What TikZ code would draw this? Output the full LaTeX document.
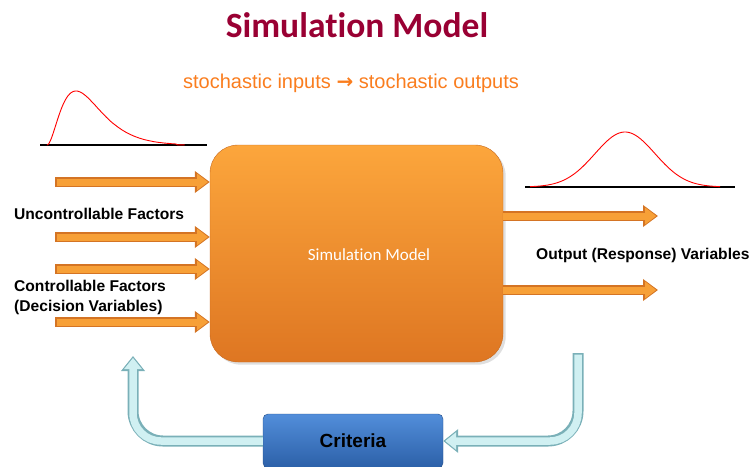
\documentclass[tikz,border=0pt]{standalone}
\usepackage{fontspec}
\setmainfont{Liberation Sans}
\newfontfamily\calibri[Ligatures=NoCommon]{Carlito}
\newfontfamily\arrowfont{DejaVu Sans}
\usetikzlibrary{arrows.meta,shadows}
\definecolor{titleRed}{RGB}{153,0,51}
\definecolor{stochOrange}{RGB}{250,125,30}
\definecolor{boxTop}{RGB}{252,166,60}
\definecolor{boxBottom}{RGB}{222,118,34}
\definecolor{arrowOrange}{RGB}{247,160,55}
\definecolor{arrowEdge}{RGB}{212,116,36}
\definecolor{critTop}{RGB}{82,142,218}
\definecolor{critBottom}{RGB}{44,96,168}
\definecolor{loopFill}{RGB}{208,240,242}
\definecolor{loopEdge}{RGB}{122,176,184}

\begin{document}
\begin{tikzpicture}[x=1pt, y=-1pt]
    \tikzset{
      modelbox/.style={rectangle, rounded corners=28pt, top color=boxTop, bottom color=boxBottom, draw=boxBottom!90!black, minimum width=293pt, minimum height=217pt, drop shadow={opacity=0.25}},
      critbox/.style={rectangle, rounded corners=5pt, top color=critTop, bottom color=critBottom, draw=critBottom!80!black, minimum width=180pt, minimum height=54pt, font=\bfseries\fontsize{19}{22}\selectfont},
      factor/.style={anchor=west, align=left, inner sep=0pt, font=\bfseries\fontsize{15.6}{19.5}\selectfont},
      inedge/.style={line width=10pt, arrowEdge, -{Triangle[width=21pt,length=15pt]}},
      infill/.style={line width=7pt, arrowOrange, -{Triangle[width=16pt,length=11pt]}, shorten >=1.8pt},
      loopedge/.style={line width=11pt, loopEdge, rounded corners=30pt, -{Triangle[width=23pt,length=15pt]}},
      loopfill/.style={line width=7.5pt, loopFill, rounded corners=28pt, -{Triangle[width=17pt,length=11pt]}, shorten >=2pt},
      axis/.style={line width=1.3pt, black},
      density/.style={line width=0.9pt, red, smooth}
    }
    \useasboundingbox (0,0) rectangle (749,466);

    % titles
    \node[text=titleRed, font=\calibri\bfseries\fontsize{35.5}{40}\selectfont] (title) at (357,25) {Simulation Model};
    \node[text=stochOrange, font=\fontsize{20}{22}\selectfont] (sub) at (351,83) {stochastic inputs {\arrowfont\bfseries →} stochastic outputs};

    % input and output distributions
    \draw[axis] (40,145) -- (207,145);
    \draw[density] plot[domain=0:9.5, samples=80] ({47+14.5*\x}, {145-99.8*\x*\x*exp(-\x)});
    \draw[axis] (525,187) -- (735,187);
    \draw[density] plot[domain=530:720, samples=80] (\x, {187-55*exp(-((\x-625)/30)^2/2)});

    % model and criteria
    \node[modelbox] (model) at (356.5,253.5) {};
    \node[text=white, font=\calibri\fontsize{17}{20}\selectfont] (modeltext) at (369,255) {Simulation Model};
    \node[critbox] (crit) at (353,441) {Criteria};

    % factors
    \node[factor] (unctrl) at (14,214) {Uncontrollable Factors};
    \node[factor] (ctrl) at (14,297.5) {Controllable Factors\\(Decision Variables)};
    \node[factor] (resp) at (536,255) {Output (Response) Variables};

    % arrows in and out
    \foreach \y [count=\i] in {182,237,269,322} {
      \coordinate (in\i) at (55,\y);
      \draw[inedge] (in\i) -- (model.west |- in\i);
      \draw[infill] (in\i) ++(1.5,0) -- (model.west |- in\i);
    }
    \foreach \y [count=\i] in {216,290} {
      \coordinate (out\i) at (658,\y);
      \draw[inedge] (model.east |- out\i) -- (out\i);
      \draw[infill] (model.east |- out\i) -- (out\i);
    }

    % feedback loop
    \coordinate (fbtop) at (578,353);
    \coordinate (fbtip) at (133,356);
    \draw[loopedge] (fbtop) |- (crit.east);
    \draw[loopfill] (fbtop) ++(0,1.5) |- (crit.east);
    \draw[loopedge] (crit.west) -| (fbtip);
    \draw[loopfill] (crit.west) -| (fbtip);
\end{tikzpicture}
\end{document}
